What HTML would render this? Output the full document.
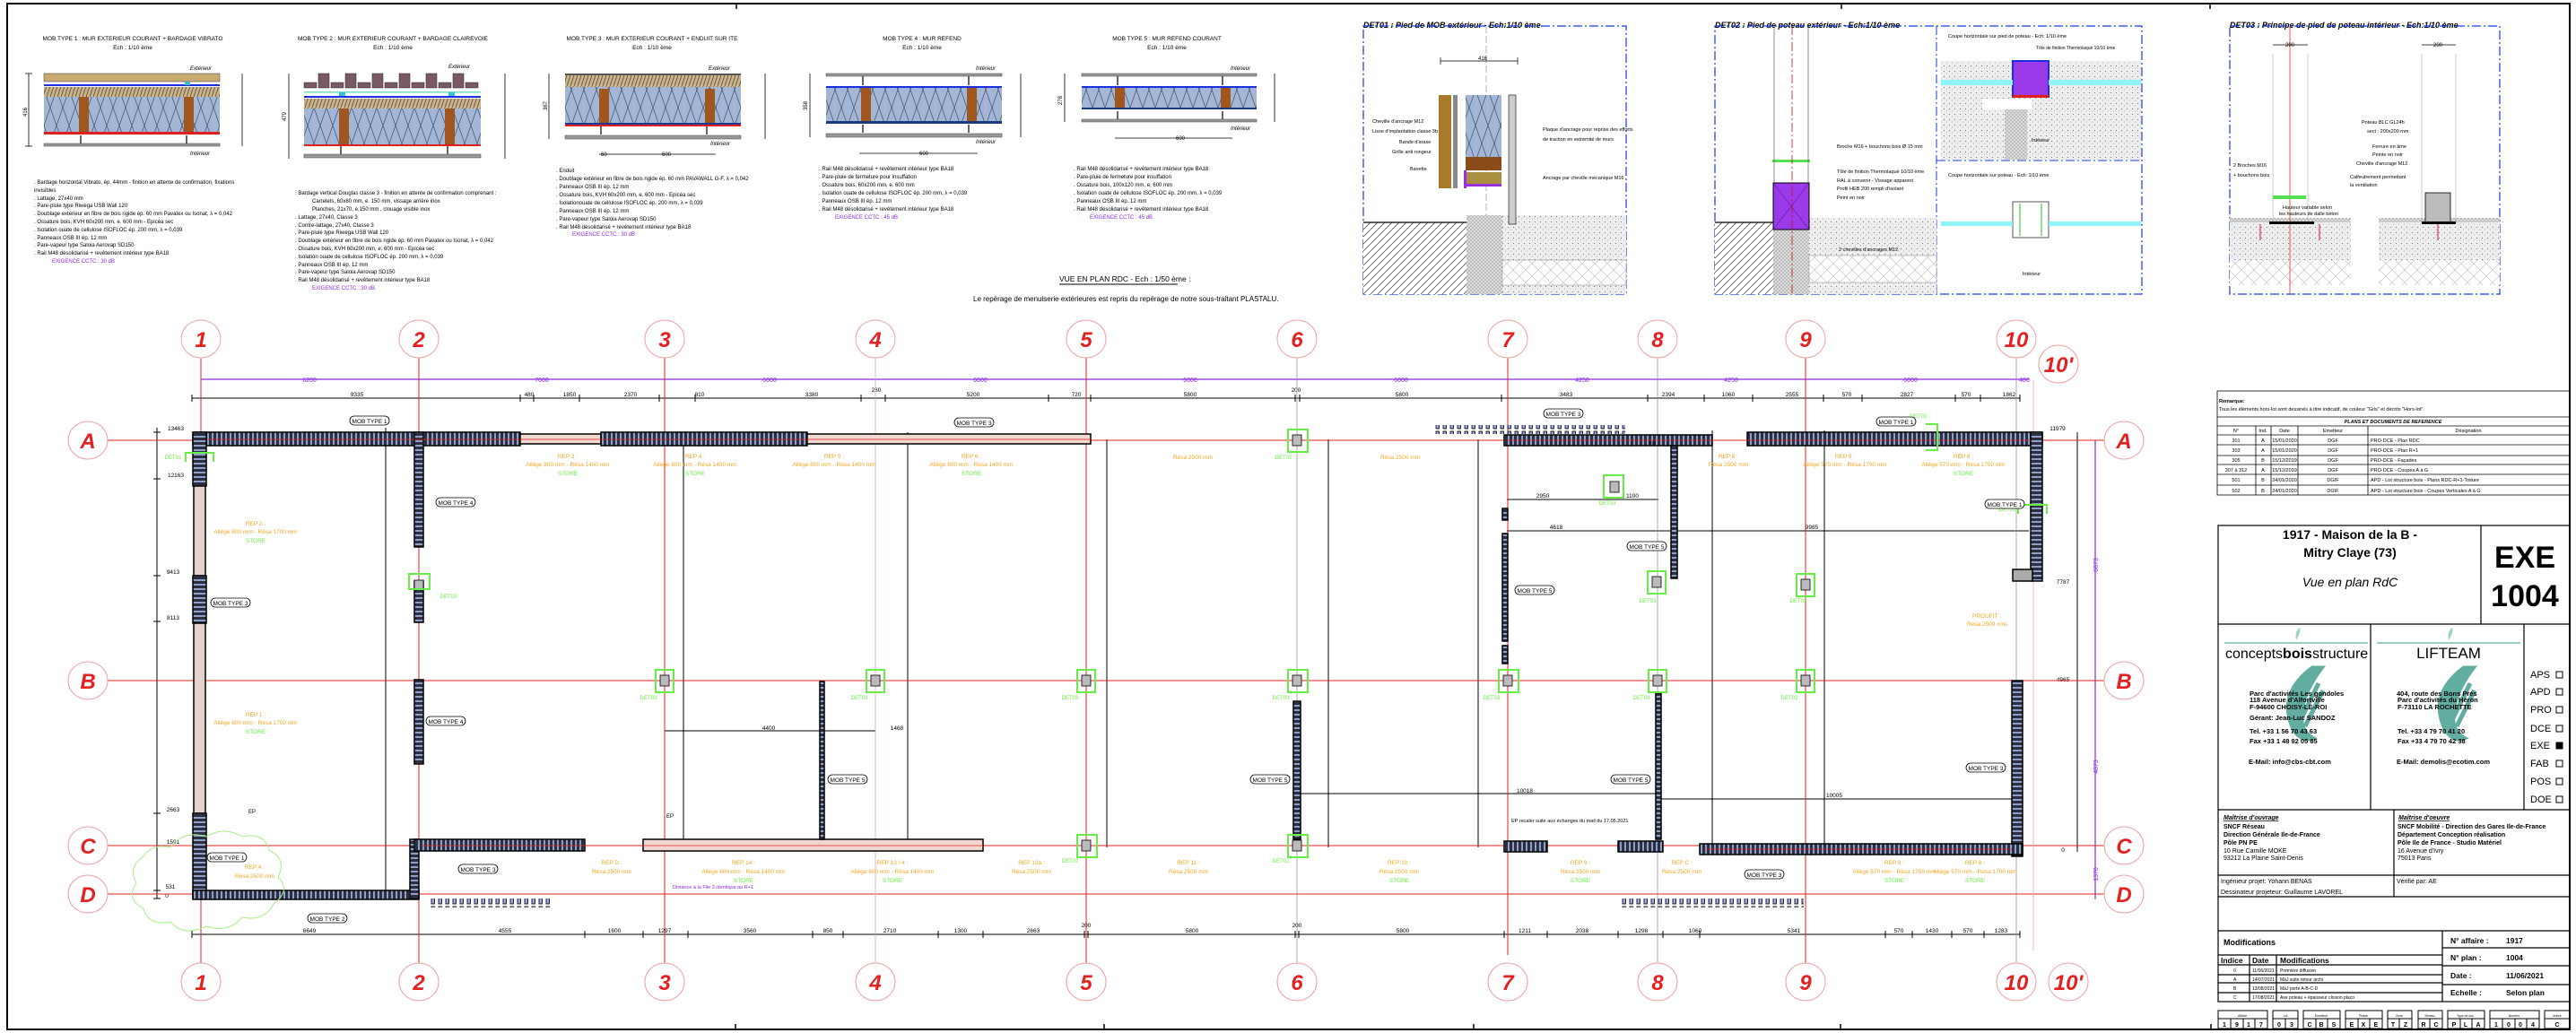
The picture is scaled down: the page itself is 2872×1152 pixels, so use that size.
<!DOCTYPE html>
<html><head><meta charset="utf-8"><style>
html,body{margin:0;padding:0;background:#fff}
svg{display:block}
text{font-family:"Liberation Sans Narrow","Liberation Sans",sans-serif}
</style></head><body>
<svg width="2872" height="1152" viewBox="0 0 2872 1152" xmlns="http://www.w3.org/2000/svg">
<defs>
<pattern id="hw" patternUnits="userSpaceOnUse" width="5" height="20"><rect width="5" height="20" fill="#2b2f3f"/><rect x="1" y="0" width="2" height="20" fill="#8fa0c8"/></pattern>
<pattern id="vw" patternUnits="userSpaceOnUse" width="20" height="5"><rect width="20" height="5" fill="#2b2f3f"/><rect x="0" y="1" width="20" height="2" fill="#8fa0c8"/></pattern>
<pattern id="ins" patternUnits="userSpaceOnUse" width="14" height="40"><rect width="14" height="40" fill="#a3b6d6"/><path d="M0 0 Q7 20 14 40 M14 0 Q7 20 0 40" stroke="#3c4a66" stroke-width="0.7" fill="none"/></pattern>
<pattern id="fib" patternUnits="userSpaceOnUse" width="4" height="12"><rect width="4" height="12" fill="#c9b48e"/><path d="M0 12 L4 0" stroke="#5a4630" stroke-width="0.8"/></pattern>
<pattern id="diag" patternUnits="userSpaceOnUse" width="8" height="8"><rect width="8" height="8" fill="#fff"/><path d="M0 8 L8 0" stroke="#333" stroke-width="0.7"/></pattern>
<pattern id="conc" patternUnits="userSpaceOnUse" width="6" height="6"><rect width="6" height="6" fill="#eee"/><circle cx="1.5" cy="1.5" r="0.6" fill="#777"/><circle cx="4.5" cy="4" r="0.5" fill="#999"/></pattern>
<pattern id="xh" patternUnits="userSpaceOnUse" width="4" height="4"><rect width="4" height="4" fill="#ddd"/><path d="M0 4 L4 0 M0 0 L4 4" stroke="#999" stroke-width="0.5"/></pattern>
<pattern id="winrow" patternUnits="userSpaceOnUse" width="8" height="10"><rect x="1" y="1" width="3.5" height="7" fill="#9aa2e0" stroke="#000" stroke-width="0.8"/></pattern>
<pattern id="pinsq" patternUnits="userSpaceOnUse" width="14" height="14"><rect width="14" height="14" fill="#fff"/><path d="M0 0 Q7 7 14 14 M14 0 Q7 7 0 14" stroke="#bbb" stroke-width="0.6" fill="none"/></pattern>
</defs>
<rect width="2872" height="1152" fill="#fff"/>
<!-- frame -->
<rect x="8" y="4" width="2857" height="1144" fill="none" stroke="#000" stroke-width="2"/>
<g stroke="#000" stroke-width="1.5">
<line x1="821" y1="4" x2="821" y2="10"/><line x1="2053" y1="4" x2="2053" y2="10"/><line x1="2464" y1="4" x2="2464" y2="10"/>
<line x1="820" y1="1142" x2="820" y2="1148"/><line x1="1231" y1="1142" x2="1231" y2="1148"/><line x1="1643" y1="1142" x2="1643" y2="1148"/><line x1="2052" y1="1142" x2="2052" y2="1148"/><line x1="2465" y1="1142" x2="2465" y2="1148"/>
</g>

<!-- ===== MOB TYPE DETAILS ===== -->
<g font-size="6.5" text-anchor="middle" fill="#000">
<text x="148" y="45">MOB TYPE 1 : MUR EXTERIEUR COURANT + BARDAGE VIBRATO</text><text x="148" y="55">Ech : 1/10 ème</text>
<text x="438" y="45">MOB TYPE 2 : MUR EXTERIEUR COURANT + BARDAGE CLAIREVOIE</text><text x="438" y="55">Ech : 1/10 ème</text>
<text x="727" y="45">MOB TYPE 3 : MUR EXTERIEUR COURANT + ENDUIT SUR ITE</text><text x="727" y="55">Ech : 1/10 ème</text>
<text x="1028" y="45">MOB TYPE 4 : MUR REFEND</text><text x="1028" y="55">Ech : 1/10 ème</text>
<text x="1301" y="45">MOB TYPE 5 : MUR REFEND COURANT</text><text x="1301" y="55">Ech : 1/10 ème</text>
</g>
<!-- MOB1 -->
<g>
<rect x="49" y="82" width="196" height="9" fill="#c8aa72" stroke="#333" stroke-width="0.5"/>
<rect x="49" y="94" width="196" height="2" fill="#1a2fe0"/>
<rect x="49" y="97" width="196" height="11" fill="url(#fib)"/>
<rect x="49" y="108" width="196" height="39" fill="url(#ins)"/>
<rect x="88" y="108" width="11" height="39" fill="#a0561f"/><rect x="205" y="108" width="11" height="39" fill="#a0561f"/>
<rect x="206" y="91" width="6" height="4" fill="#3ac0d0"/>
<rect x="49" y="147" width="196" height="3" fill="#e02020"/>
<path d="M90 151 V160 M208 151 V160" stroke="#000" stroke-width="1.2"/>
<rect x="49" y="160" width="196" height="3" fill="#999" stroke="#444" stroke-width="0.5"/>
<path d="M32 82 V163 M28 82 H36 M28 163 H36" stroke="#000" stroke-width="0.8"/>
<text x="30" y="125" font-size="6" transform="rotate(-90 30 125)" text-anchor="middle">416</text>
<path d="M270 82 V163" stroke="#000" stroke-width="0.8"/>
<text x="212" y="78" font-size="6" font-style="italic">Extérieur</text><text x="212" y="173" font-size="6" font-style="italic">Intérieur</text>
</g>
<!-- MOB2 -->
<g>
<g fill="#7a5a62" stroke="#222" stroke-width="0.5">
<rect x="339" y="92" width="14" height="6"/><rect x="355" y="82" width="12" height="16"/><rect x="369" y="92" width="14" height="6"/><rect x="385" y="82" width="12" height="16"/><rect x="399" y="92" width="14" height="6"/><rect x="415" y="82" width="12" height="16"/><rect x="429" y="92" width="14" height="6"/><rect x="445" y="82" width="12" height="16"/><rect x="459" y="92" width="14" height="6"/><rect x="475" y="82" width="12" height="16"/><rect x="489" y="92" width="14" height="6"/><rect x="505" y="82" width="12" height="16"/><rect x="519" y="92" width="14" height="6"/></g>
<rect x="339" y="102" width="197" height="1.5" fill="#6ee0c0"/>
<rect x="378" y="103" width="7" height="5" fill="#3ac0d0"/><rect x="500" y="103" width="7" height="5" fill="#3ac0d0"/>
<rect x="339" y="107" width="197" height="2" fill="#1a2fe0"/>
<rect x="339" y="110" width="197" height="11" fill="url(#fib)"/>
<rect x="339" y="121" width="197" height="40" fill="url(#ins)"/>
<rect x="378" y="121" width="11" height="40" fill="#a0561f"/><rect x="496" y="121" width="11" height="40" fill="#a0561f"/>
<rect x="339" y="161" width="197" height="2" fill="#e02020"/>
<path d="M380 163 V172 M499 163 V172" stroke="#000" stroke-width="1.2"/>
<rect x="339" y="172" width="197" height="4" fill="#999" stroke="#444" stroke-width="0.5"/>
<path d="M322 82 V177" stroke="#000" stroke-width="0.8"/><text x="319" y="130" font-size="6" transform="rotate(-90 319 130)" text-anchor="middle">479</text>
<path d="M563 82 V177" stroke="#000" stroke-width="0.8"/>
<text x="500" y="76" font-size="6" font-style="italic">Extérieur</text>
</g>
<!-- MOB3 -->
<g>
<rect x="630" y="82" width="196" height="2" fill="#555"/>
<rect x="630" y="84" width="196" height="13" fill="url(#fib)"/>
<rect x="630" y="97" width="196" height="40" fill="url(#ins)"/>
<rect x="668" y="99" width="11" height="38" fill="#a0561f"/><rect x="786" y="99" width="11" height="38" fill="#a0561f"/>
<rect x="630" y="137" width="196" height="2" fill="#1a3a90"/><rect x="630" y="139" width="196" height="2" fill="#e02020"/>
<path d="M670 141 V150 M788 141 V150" stroke="#000" stroke-width="1.2"/>
<rect x="630" y="151" width="196" height="4" fill="#999" stroke="#444" stroke-width="0.5"/>
<path d="M612 82 V155" stroke="#000" stroke-width="0.8"/><text x="610" y="118" font-size="6" transform="rotate(-90 610 118)" text-anchor="middle">367</text>
<path d="M853 82 V155" stroke="#000" stroke-width="0.8"/>
<text x="790" y="78" font-size="6" font-style="italic">Extérieur</text><text x="792" y="162" font-size="6" font-style="italic">Intérieur</text>
<path d="M668 172 H798" stroke="#000" stroke-width="0.8"/><text x="738" y="174" font-size="6">600</text><text x="670" y="174" font-size="6">60</text>
</g>
<!-- MOB4 -->
<g>
<rect x="921" y="82" width="196" height="3" fill="#999" stroke="#444" stroke-width="0.5"/>
<path d="M962 85 V95 M1080 85 V95 M962 139 V148 M1080 139 V148" stroke="#000" stroke-width="1.2"/>
<rect x="921" y="96" width="196" height="2" fill="#1a2fe0"/>
<rect x="921" y="98" width="196" height="37" fill="url(#ins)"/>
<rect x="960" y="98" width="11" height="37" fill="#a0561f"/><rect x="1078" y="98" width="11" height="37" fill="#a0561f"/>
<rect x="921" y="135" width="196" height="3" fill="#1a3a80"/>
<rect x="921" y="149" width="196" height="4" fill="#999" stroke="#444" stroke-width="0.5"/>
<path d="M903 82 V153" stroke="#000" stroke-width="0.8"/><text x="900" y="118" font-size="6" transform="rotate(-90 900 118)" text-anchor="middle">358</text>
<path d="M1138 82 V153" stroke="#000" stroke-width="0.8"/>
<text x="1088" y="78" font-size="6" font-style="italic">Intérieur</text><text x="1088" y="160" font-size="6" font-style="italic">Intérieur</text>
<path d="M958 171 H1090" stroke="#000" stroke-width="0.8"/><text x="1025" y="173" font-size="6">600</text>
</g>
<!-- MOB5 -->
<g>
<rect x="1206" y="82" width="195" height="3" fill="#999" stroke="#444" stroke-width="0.5"/>
<path d="M1246 85 V95 M1363 85 V95 M1246 124 V133 M1363 124 V133" stroke="#000" stroke-width="1.2"/>
<rect x="1206" y="96" width="195" height="2" fill="#1a2fe0"/>
<rect x="1206" y="98" width="195" height="22" fill="url(#ins)"/>
<rect x="1243" y="98" width="11" height="22" fill="#a0561f"/><rect x="1361" y="98" width="11" height="22" fill="#a0561f"/>
<rect x="1206" y="120" width="195" height="2" fill="#1a3a80"/>
<rect x="1206" y="133" width="195" height="3" fill="#999" stroke="#444" stroke-width="0.5"/>
<path d="M1187 82 V136" stroke="#000" stroke-width="0.8"/><text x="1184" y="112" font-size="6" transform="rotate(-90 1184 112)" text-anchor="middle">278</text>
<path d="M1421 82 V136" stroke="#000" stroke-width="0.8"/>
<text x="1372" y="78" font-size="6" font-style="italic">Intérieur</text><text x="1372" y="145" font-size="6" font-style="italic">Intérieur</text>
<path d="M1243 154 H1374" stroke="#000" stroke-width="0.8"/><text x="1311" y="156" font-size="6">600</text>
</g>
<!-- MOB texts -->
<g font-size="6">
<text x="38" y="205">. Bardage horizontal Vibrato, ép. 44mm - finition en attente de confirmation, fixations</text>
<text x="38" y="214">invisibles</text>
<text x="38" y="223">. Lattage, 27x40 mm</text>
<text x="38" y="231">. Pare-pluie type Riwega USB Wall 120</text>
<text x="38" y="240">. Doublage extérieur en fibre de bois rigide ép. 60 mm Pavatex ou Isonat, λ = 0,042</text>
<text x="38" y="249">. Ossature bois, KVH 60x200 mm, e. 600 mm - Epicéa sec</text>
<text x="38" y="258">. Isolation ouate de cellulose ISOFLOC ép. 200 mm, λ = 0,039</text>
<text x="38" y="267">. Panneaux OSB III ép. 12 mm</text>
<text x="38" y="275">. Pare-vapeur type Saloia Aerovap SD150</text>
<text x="38" y="284">. Rail M48 désolidarisé + revêtement intérieur type BA18</text>
<text x="58" y="293" fill="#8a2be2">EXIGENCE CCTC : 30 dB</text>

<text x="329" y="217">. Bardage vertical Douglas classe 3 - finition en attente de confirmation comprenant :</text>
<text x="348" y="226">Carrelets, 60x80 mm, e. 150 mm, vissage arrière inox</text>
<text x="348" y="235">Planches, 21x70, e.150 mm , clouage visible inox</text>
<text x="329" y="244">. Lattage, 27x40, Classe 3</text>
<text x="329" y="253">. Contre-lattage, 27x40, Classe 3</text>
<text x="329" y="261">. Pare-pluie type Riwega USB Wall 120</text>
<text x="329" y="270">. Doublage extérieur en fibre de bois rigide ép. 60 mm Pavatex ou Isonat, λ = 0,042</text>
<text x="329" y="279">. Ossature bois, KVH 60x200 mm, e. 600 mm - Epicéa sec</text>
<text x="329" y="288">. Isolation ouate de cellulose ISOFLOC  ép. 200 mm, λ = 0,039</text>
<text x="329" y="297">. Panneaux OSB III ép. 12 mm</text>
<text x="329" y="305">. Pare-vapeur type Saloia Aerovap SD150</text>
<text x="329" y="314">. Rail M48 désolidarisé + revêtement intérieur type BA18</text>
<text x="348" y="323" fill="#8a2be2">EXIGENCE CCTC : 30 dB</text>

<text x="620" y="192">. Enduit</text>
<text x="620" y="201">. Doublage extérieur en fibre de bois rigide ép. 60 mm PAVAWALL G-F, λ = 0,042</text>
<text x="620" y="210">. Panneaux OSB III ép. 12 mm</text>
<text x="620" y="219">. Ossature bois, KVH 60x200 mm, e. 600 mm - Epicéa sec</text>
<text x="620" y="228">. Isolationouate de cellulose ISOFLOC ép. 200 mm, λ = 0,039</text>
<text x="620" y="237">. Panneaux OSB III ép. 12 mm</text>
<text x="620" y="246">. Pare-vapeur type Saloia Aerovap SD150</text>
<text x="620" y="255">. Rail M48 désolidarisé + revêtement intérieur type BA18</text>
<text x="638" y="263" fill="#8a2be2">EXIGENCE CCTC : 30 dB</text>

<text x="913" y="190">. Rail M48 désolidarisé + revêtement intérieur type BA18</text>
<text x="913" y="199">. Pare-pluie de fermeture pour insuffation</text>
<text x="913" y="208">. Ossature bois, 60x200 mm, e. 600 mm</text>
<text x="913" y="217">. Isolation ouate de cellulose ISOFLOC ép. 200 mm, λ = 0,039</text>
<text x="913" y="226">. Panneaux OSB III ép. 12 mm</text>
<text x="913" y="235">. Rail M48 désolidarisé + revêtement intérieur type BA18</text>
<text x="931" y="244" fill="#8a2be2">EXIGENCE CCTC : 45 dB</text>

<text x="1197" y="190">. Rail M48 désolidarisé + revêtement intérieur type BA18</text>
<text x="1197" y="199">. Pare-pluie de fermeture pour insuffation</text>
<text x="1197" y="208">. Ossature bois, 100x120 mm, e. 600 mm</text>
<text x="1197" y="217">. Isolation ouate de cellulose ISOFLOC ép. 200 mm, λ = 0,039</text>
<text x="1197" y="226">. Panneaux OSB III ép. 12 mm</text>
<text x="1197" y="235">. Rail M48 désolidarisé + revêtement intérieur type BA18</text>
<text x="1215" y="244" fill="#8a2be2">EXIGENCE CCTC : 45 dB</text>
</g>
<text x="1181" y="314" font-size="8.5">VUE EN PLAN RDC - Ech : 1/50 ème :</text>
<line x1="1181" y1="317" x2="1313" y2="317" stroke="#000" stroke-width="1"/>
<text x="1085" y="336" font-size="8">Le repérage de menuiserie extérieures est repris du repérage de notre sous-traitant PLASTALU.</text>

<!-- ===== DET01 ===== -->
<g>
<text x="1520" y="31" font-size="9" font-style="italic" font-weight="bold">DET01 : Pied de MOB extérieur - Ech:1/10 ème</text>
<rect x="1520" y="29" width="293" height="299" fill="none" stroke="#1a3adc" stroke-width="1.2" stroke-dasharray="10 3 2 3"/>
<line x1="1657" y1="29" x2="1657" y2="328" stroke="#666" stroke-width="0.5" stroke-dasharray="8 3"/>
<rect x="1520" y="248" width="115" height="80" fill="url(#diag)"/>
<line x1="1520" y1="248" x2="1635" y2="248" stroke="#000" stroke-width="1.2"/>
<rect x="1635" y="240" width="178" height="88" fill="url(#conc)"/>
<rect x="1635" y="240" width="40" height="88" fill="url(#xh)"/>
<rect x="1675" y="290" width="138" height="28" fill="url(#pinsq)" stroke="#888" stroke-width="0.5"/>
<rect x="1604" y="106" width="14" height="104" fill="#a87a2a"/>
<rect x="1620" y="106" width="5" height="104" fill="#888"/>
<rect x="1634" y="106" width="40" height="69" fill="url(#ins)"/>
<rect x="1634" y="175" width="40" height="15" fill="#8a4a1a"/>
<rect x="1634" y="192" width="40" height="15" fill="#a89040"/>
<rect x="1632" y="190" width="3" height="20" fill="#9a30e0"/><rect x="1634" y="205" width="40" height="3" fill="#9a30e0"/>
<rect x="1682" y="106" width="8" height="144" fill="#ccc" stroke="#000" stroke-width="0.6"/>
<g font-size="5.5"><text x="1530" y="137">Cheville d'ancrage M12</text><text x="1530" y="148">Lisse d'implantation classe 3b</text><text x="1560" y="160">Bande d'arase</text><text x="1552" y="171">Grille anti rongeur</text><text x="1572" y="190">Bavette</text><text x="1720" y="146">Plaque d'ancrage pour reprise des efforts</text><text x="1720" y="157">de traction en extrémité de murs</text><text x="1720" y="200">Ancrage par cheville mécanique M16</text></g>
<path d="M1606 68 H1692 M1606 64 V72 M1692 64 V72" stroke="#000" stroke-width="0.7"/><text x="1648" y="67" font-size="6">416</text>
</g>
<!-- ===== DET02 ===== -->
<g>
<text x="1912" y="31" font-size="9" font-style="italic" font-weight="bold">DET02 : Pied de poteau extérieur - Ech:1/10 ème</text>
<rect x="1912" y="29" width="476" height="299" fill="none" stroke="#1a3adc" stroke-width="1.2" stroke-dasharray="10 3 2 3"/>
<line x1="2159" y1="29" x2="2159" y2="328" stroke="#1a3adc" stroke-width="1" stroke-dasharray="10 3 2 3"/>
<line x1="2159" y1="179" x2="2388" y2="179" stroke="#1a3adc" stroke-width="1" stroke-dasharray="10 3 2 3"/>
<rect x="1912" y="248" width="65" height="80" fill="url(#diag)"/>
<line x1="1912" y1="248" x2="1977" y2="248" stroke="#000" stroke-width="1.2"/>
<rect x="2017" y="243" width="142" height="85" fill="url(#conc)"/>
<rect x="1977" y="256" width="40" height="72" fill="url(#xh)"/>
<rect x="2017" y="285" width="142" height="30" fill="url(#pinsq)" stroke="#888" stroke-width="0.5"/>
<rect x="1977" y="204" width="40" height="52" fill="#9a3ae8" stroke="#000" stroke-width="1"/>
<path d="M1977 204 L2017 256 M2017 204 L1977 256" stroke="#5a1a9a" stroke-width="0.6"/>
<rect x="1976" y="178" width="42" height="3" fill="#55e050"/>
<line x1="1998" y1="29" x2="1998" y2="328" stroke="#c01010" stroke-width="0.8" stroke-dasharray="10 3 2 3"/>
<line x1="1978" y1="29" x2="1978" y2="204" stroke="#444" stroke-width="0.6"/><line x1="2016" y1="29" x2="2016" y2="204" stroke="#444" stroke-width="0.6"/>
<g font-size="5.5"><text x="2048" y="165">Broche M16 + bouchons bois Ø 15 mm</text><text x="2048" y="193">Tôle de finition Thermolaqué 10/10 ème</text><text x="2048" y="203">RAL à convenir - Vissage apparent</text><text x="2048" y="212">Profil HEB 200 rempli d'isolant</text><text x="2048" y="222">Peint en noir</text><text x="2050" y="280">2 chevilles d'ancrages M12</text></g>
<rect x="2164" y="68" width="223" height="110" fill="url(#conc)"/>
<rect x="2210" y="110" width="55" height="12" fill="#fff"/>
<rect x="2235" y="122" width="25" height="56" fill="url(#xh)"/>
<rect x="2244" y="68" width="40" height="40" fill="#9a3ae8" stroke="#1a2fe0" stroke-width="2"/>
<rect x="2244" y="106" width="40" height="3" fill="#e02020"/>
<rect x="2164" y="89" width="80" height="6" fill="#8ff4f8"/><rect x="2284" y="89" width="103" height="6" fill="#8ff4f8"/>
<text x="2172" y="42" font-size="5.5">Coupe horizontale sur pied de poteau - Ech: 1/10 ème</text>
<text x="2270" y="55" font-size="5">Tôle de finition Thermolaqué 10/10 ème</text>
<text x="2172" y="197" font-size="5.5">Coupe horizontale sur poteau - Ech: 1/10 ème</text>
<rect x="2244" y="225" width="40" height="40" fill="#fff" stroke="#555" stroke-width="1"/>
<path d="M2252 227 V263 M2276 227 V263" stroke="#40d040" stroke-width="1.2"/>
<rect x="2164" y="247" width="80" height="5" fill="#8ff4f8"/><rect x="2284" y="247" width="103" height="5" fill="#8ff4f8"/>
<text x="2265" y="307" font-size="5.5" text-anchor="middle">Intérieur</text>
<text x="2275" y="158" font-size="5.5" text-anchor="middle">Intérieur</text>
</g>
<!-- ===== DET03 ===== -->
<g>
<text x="2486" y="31" font-size="9" font-style="italic" font-weight="bold">DET03 : Principe de pied de poteau intérieur - Ech:1/10 ème</text>
<rect x="2486" y="29" width="301" height="299" fill="none" stroke="#1a3adc" stroke-width="1.2" stroke-dasharray="10 3 2 3"/>
<rect x="2486" y="243" width="135" height="47" fill="url(#conc)"/><rect x="2486" y="290" width="135" height="28" fill="url(#pinsq)"/>
<rect x="2652" y="243" width="135" height="47" fill="url(#conc)"/><rect x="2652" y="290" width="135" height="28" fill="url(#pinsq)"/>
<rect x="2486" y="243" width="135" height="5" fill="url(#xh)"/><rect x="2652" y="243" width="135" height="5" fill="url(#xh)"/>
<line x1="2553" y1="29" x2="2553" y2="328" stroke="#e03030" stroke-width="0.8"/>
<line x1="2534" y1="60" x2="2534" y2="248" stroke="#999" stroke-width="0.5"/><line x1="2573" y1="60" x2="2573" y2="248" stroke="#999" stroke-width="0.5"/>
<line x1="2700" y1="60" x2="2700" y2="248" stroke="#999" stroke-width="0.5"/><line x1="2738" y1="60" x2="2738" y2="248" stroke="#999" stroke-width="0.5"/>
<rect x="2534" y="218" width="37" height="4" fill="#55e050"/>
<rect x="2704" y="215" width="28" height="33" fill="#bbb" stroke="#000" stroke-width="0.8"/>
<rect x="2530" y="247" width="50" height="3" fill="#000"/><rect x="2700" y="247" width="38" height="3" fill="#000"/>
<path d="M2520 250 V268 M2586 250 V268 M2718 250 V268" stroke="#e03070" stroke-width="1.2"/>
<g font-size="5.5"><text x="2490" y="186">2 Broches M16</text><text x="2490" y="197">+ bouchons bois</text><text x="2545" y="233">Hauteur variable selon</text><text x="2541" y="240">les hauteurs de dalle béton</text><text x="2633" y="138">Poteau BLC GL24h</text><text x="2639" y="148">sect : 200x200 mm</text><text x="2645" y="165">Ferrure en âme</text><text x="2645" y="174">Peinte en noir</text><text x="2627" y="184">Cheville d'ancrage M12</text><text x="2620" y="199">Calfeutrement permettant</text><text x="2620" y="208">la ventilation</text></g>
<path d="M2534 50 H2573 M2700 50 H2738" stroke="#000" stroke-width="0.7"/><text x="2548" y="52" font-size="6">200</text><text x="2713" y="52" font-size="6">200</text>
</g>

<!-- ===== PLAN ===== -->
<!-- dimension lines -->
<g stroke="#8a2be2" stroke-width="1.2"><line x1="224" y1="423" x2="2262" y2="423"/><line x1="2336" y1="491" x2="2336" y2="1003"/></g>
<g fill="#8a2be2" font-size="7" text-anchor="middle">
<text x="345" y="426">6200</text><text x="604" y="426">7000</text><text x="858" y="426">6000</text><text x="1093" y="426">6000</text><text x="1327" y="426">6000</text><text x="1562" y="426">6000</text><text x="1764" y="426">4250</text><text x="1930" y="426">4250</text><text x="2130" y="426">6000</text><text x="2257" y="426">480</text>
<text x="2339" y="630" transform="rotate(-90 2339 630)">6873</text><text x="2339" y="855" transform="rotate(-90 2339 855)">4873</text><text x="2339" y="975" transform="rotate(-90 2339 975)">1370</text>
</g>
<g stroke="#000" stroke-width="1"><line x1="214" y1="444" x2="2252" y2="444"/><line x1="214" y1="1042" x2="2252" y2="1042"/>
<line x1="175" y1="477" x2="175" y2="1002"/><line x1="2316" y1="482" x2="2316" y2="950"/>
<line x1="430" y1="477" x2="430" y2="995"/><line x1="1012" y1="482" x2="1012" y2="945"/><line x1="1234" y1="490" x2="1234" y2="945"/><line x1="1481" y1="490" x2="1481" y2="945"/><line x1="1648" y1="490" x2="1648" y2="945"/><line x1="762" y1="490" x2="762" y2="945"/><line x1="1909" y1="480" x2="1909" y2="948"/><line x1="2034" y1="480" x2="2034" y2="948"/>
<line x1="741" y1="815" x2="976" y2="815"/><line x1="1446" y1="885" x2="1850" y2="885"/><line x1="1680" y1="592" x2="2262" y2="592"/><line x1="1680" y1="557" x2="1849" y2="557"/><line x1="1850" y1="891" x2="2249" y2="891"/>
</g>
<g stroke="#000" stroke-width="1">
<path d="M214 440 V448 M580 440 V448 M595 440 V448 M646 440 V448 M735 440 V448 M775 440 V448 M960 440 V448 M987 440 V448 M1169 440 V448 M1216 440 V448 M1444 440 V448 M1449 440 V448 M1674 440 V448 M1837 440 V448 M1900 440 V448 M1954 440 V448 M2033 440 V448 M2076 440 V448 M2180 440 V448 M2208 440 V448 M2252 440 V448"/>
<path d="M214 1038 V1046 M467 1038 V1046 M652 1038 V1046 M717 1038 V1046 M767 1038 V1046 M906 1038 V1046 M940 1038 V1046 M1046 1038 V1046 M1096 1038 V1046 M1209 1038 V1046 M1213 1038 V1046 M1444 1038 V1046 M1448 1038 V1046 M1677 1038 V1046 M1725 1038 V1046 M1804 1038 V1046 M1854 1038 V1046 M1895 1038 V1046 M2102 1038 V1046 M2132 1038 V1046 M2176 1038 V1046 M2212 1038 V1046 M2252 1038 V1046"/>
<path d="M171 482 H179 M171 534 H179 M171 642 H179 M171 693 H179 M171 907 H179 M171 943 H179 M171 993 H179 M171 1002 H179"/>
</g>
<g font-size="6.5" text-anchor="middle">
<text x="398" y="442">9335</text><text x="590" y="442">480</text><text x="635" y="442">1850</text><text x="703" y="442">2370</text><text x="780" y="442">810</text><text x="905" y="442">3380</text><text x="977" y="437">280</text><text x="1085" y="442">5200</text><text x="1200" y="442">720</text><text x="1327" y="442">5800</text><text x="1445" y="437">200</text><text x="1563" y="442">5800</text><text x="1746" y="442">3483</text><text x="1860" y="442">2394</text><text x="1927" y="442">1060</text><text x="1998" y="442">2555</text><text x="2059" y="442">570</text><text x="2126" y="442">2827</text><text x="2192" y="442">570</text><text x="2240" y="442">1862</text>
<text x="345" y="1040">6649</text><text x="563" y="1040">4555</text><text x="685" y="1040">1600</text><text x="741" y="1040">1297</text><text x="836" y="1040">3560</text><text x="923" y="1040">850</text><text x="992" y="1040">2710</text><text x="1071" y="1040">1300</text><text x="1152" y="1040">2663</text><text x="1211" y="1034">200</text><text x="1329" y="1040">5800</text><text x="1446" y="1034">200</text><text x="1564" y="1040">5800</text><text x="1700" y="1040">1211</text><text x="1764" y="1040">2038</text><text x="1830" y="1040">1298</text><text x="1890" y="1040">1060</text><text x="2000" y="1040">5341</text><text x="2117" y="1040">570</text><text x="2154" y="1040">1430</text><text x="2194" y="1040">570</text><text x="2231" y="1040">1283</text>
<text x="196" y="480">13463</text><text x="196" y="532">12163</text><text x="193" y="640">9413</text><text x="193" y="691">8113</text><text x="193" y="905">2663</text><text x="193" y="941">1591</text><text x="190" y="991">531</text><text x="186" y="1001">0</text>
<text x="2294" y="480">11979</text><text x="2300" y="651">7787</text><text x="2300" y="760">4965</text><text x="2300" y="950">0</text>
<text x="857" y="814">4400</text><text x="1000" y="814">1468</text><text x="1700" y="884">10018</text><text x="2020" y="590">9985</text><text x="1735" y="590">4618</text><text x="1720" y="555">2950</text><text x="1820" y="555">1100</text><text x="2045" y="889">10005</text>
</g>

<!-- grid lines -->
<g stroke="#e52020" stroke-width="1">
<line x1="120" y1="491" x2="2346" y2="491"/><line x1="120" y1="759" x2="2346" y2="759"/><line x1="120" y1="943" x2="2346" y2="943"/><line x1="120" y1="997" x2="2346" y2="997"/>
<line x1="224" y1="398" x2="224" y2="1080"/><line x1="467" y1="398" x2="467" y2="1080"/><line x1="741" y1="398" x2="741" y2="1080"/><line x1="1211" y1="398" x2="1211" y2="1080"/><line x1="1681" y1="398" x2="1681" y2="1065"/><line x1="2013" y1="398" x2="2013" y2="1080"/>
</g>
<g stroke="#f0a0a0" stroke-width="0.8"><line x1="976" y1="398" x2="976" y2="1080"/><line x1="2267" y1="424" x2="2267" y2="1060"/></g>
<g stroke="#888" stroke-width="0.7"><line x1="1446" y1="398" x2="1446" y2="1080"/><line x1="1848" y1="398" x2="1848" y2="1080"/><line x1="2248" y1="398" x2="2248" y2="1080"/></g>

<!-- walls -->
<g stroke="#000" stroke-width="1.5">
<rect x="215" y="482" width="365" height="15" fill="url(#hw)"/>
<rect x="580" y="484" width="90" height="11" fill="#f0d8d0"/>
<rect x="670" y="482" width="230" height="15" fill="url(#hw)"/>
<rect x="900" y="484" width="316" height="11" fill="#f0d8d0"/>
<rect x="1677" y="485" width="232" height="12" fill="url(#hw)"/>
<rect x="1948" y="482" width="329" height="15" fill="url(#hw)"/>
<rect x="2264" y="482" width="13" height="166" fill="url(#vw)"/>
<rect x="2244" y="635" width="22" height="13" fill="#aaa"/>
<rect x="2243" y="759" width="12" height="196" fill="url(#vw)"/>
<rect x="1895" y="941" width="360" height="12" fill="url(#hw)"/>
<rect x="1804" y="938" width="50" height="12" fill="url(#hw)"/>
<rect x="1677" y="938" width="48" height="12" fill="url(#hw)"/>
<rect x="215" y="482" width="15" height="60" fill="url(#vw)"/>
<rect x="216" y="542" width="13" height="100" fill="#e4d2cc"/>
<rect x="215" y="642" width="15" height="53" fill="url(#vw)"/>
<rect x="216" y="695" width="13" height="212" fill="#e4d2cc"/>
<rect x="215" y="907" width="15" height="95" fill="url(#vw)"/>
<rect x="215" y="993" width="252" height="10" fill="url(#hw)"/>
<rect x="457" y="936" width="10" height="66" fill="url(#vw)"/>
<rect x="462" y="936" width="190" height="13" fill="url(#hw)"/>
<rect x="717" y="936" width="379" height="13" fill="#f0d8d0"/>
<rect x="462" y="482" width="10" height="128" fill="url(#vw)"/>
<rect x="462" y="648" width="10" height="46" fill="url(#vw)"/>
<rect x="462" y="758" width="10" height="94" fill="url(#vw)"/>
<rect x="914" y="760" width="5" height="176" fill="url(#vw)"/>
<rect x="1442" y="782" width="8" height="154" fill="url(#vw)"/>
<rect x="1846" y="773" width="6" height="163" fill="url(#vw)"/>
<rect x="1863" y="497" width="7" height="148" fill="url(#vw)"/>
<rect x="1675" y="567" width="6" height="13" fill="url(#vw)"/>
<rect x="1675" y="595" width="6" height="120" fill="url(#vw)"/>
<rect x="1675" y="720" width="6" height="20" fill="url(#vw)"/>
</g>
<g stroke="#e52020" stroke-width="0.8"><line x1="230" y1="490" x2="1216" y2="490"/><line x1="1680" y1="491" x2="2264" y2="491"/><line x1="1900" y1="947" x2="2243" y2="947"/><line x1="470" y1="943" x2="1096" y2="943"/></g>
<rect x="478" y="1002" width="138" height="10" fill="url(#winrow)"/>
<rect x="1805" y="1002" width="206" height="10" fill="url(#winrow)"/>
<rect x="1598" y="474" width="214" height="10" fill="url(#winrow)"/>

<!-- columns -->
<g stroke="#000" stroke-width="0.8" fill="#bbb">
<rect x="736" y="753" width="10" height="12"/><rect x="971" y="753" width="10" height="12"/><rect x="1206" y="753" width="10" height="12"/><rect x="1441" y="753" width="10" height="12"/><rect x="1676" y="753" width="10" height="12"/><rect x="1843" y="753" width="10" height="12"/><rect x="2008" y="753" width="10" height="12"/>
<rect x="1441" y="485" width="10" height="12"/><rect x="1206" y="937" width="10" height="12"/><rect x="1441" y="937" width="10" height="12"/>
<rect x="462" y="647" width="10" height="10"/><rect x="1795" y="537" width="10" height="12"/><rect x="1842" y="643" width="10" height="12"/><rect x="2008" y="646" width="10" height="12"/>
</g>
<g stroke="#66ee44" stroke-width="2" fill="none">
<rect x="731" y="747" width="20" height="25"/><rect x="966" y="747" width="20" height="25"/><rect x="1201" y="747" width="20" height="25"/><rect x="1436" y="747" width="22" height="25"/><rect x="1671" y="747" width="22" height="25"/><rect x="1838" y="747" width="20" height="25"/><rect x="2003" y="747" width="20" height="25"/>
<rect x="1436" y="479" width="22" height="25"/><rect x="1201" y="931" width="22" height="25"/><rect x="1436" y="931" width="22" height="25"/>
<rect x="456" y="640" width="23" height="17"/><rect x="1788" y="530" width="22" height="25"/><rect x="1837" y="637" width="20" height="25"/><rect x="2003" y="640" width="20" height="25"/>
<path d="M207 515 V505 H238 V515"/><path d="M2250 573 V563 H2282 V573"/><path d="M2147 473 H2160 V502 H2147"/>
</g>
<g fill="#66ee44" font-size="6" text-anchor="middle">
<text x="193" y="512">DET01</text><text x="2238" y="570">DET01</text><text x="2139" y="466">DET01</text>
<text x="723" y="780">DET03</text><text x="958" y="780">DET03</text><text x="1193" y="780">DET03</text><text x="1428" y="780">DET03</text><text x="1663" y="780">DET03</text><text x="1830" y="780">DET03</text><text x="1995" y="780">DET02</text><text x="1431" y="512">DET02</text><text x="1193" y="962">DET02</text><text x="1428" y="962">DET02</text><text x="2005" y="672">DET02</text><text x="1837" y="672">DET03</text><text x="1792" y="563">DET03</text><text x="500" y="667">DET03</text>
</g>

<!-- wall labels -->
<g font-size="6.5" text-anchor="middle">
<g fill="#fff" stroke="#000" stroke-width="0.8">
<rect x="390" y="464" width="44" height="10" rx="5"/><rect x="486" y="555" width="44" height="10" rx="5"/><rect x="475" y="799" width="44" height="10" rx="5"/><rect x="235" y="667" width="44" height="10" rx="5"/><rect x="231" y="951" width="44" height="10" rx="5"/><rect x="343" y="1019" width="44" height="10" rx="5"/><rect x="1064" y="466" width="44" height="10" rx="5"/><rect x="1721" y="456" width="44" height="10" rx="5"/><rect x="1814" y="604" width="44" height="10" rx="5"/><rect x="1689" y="653" width="44" height="10" rx="5"/><rect x="923" y="864" width="44" height="10" rx="5"/><rect x="511" y="964" width="44" height="10" rx="5"/><rect x="1394" y="864" width="44" height="10" rx="5"/><rect x="1796" y="864" width="44" height="10" rx="5"/><rect x="2092" y="465" width="44" height="10" rx="5"/><rect x="2213" y="557" width="44" height="10" rx="5"/><rect x="2192" y="851" width="44" height="10" rx="5"/><rect x="1945" y="970" width="44" height="10" rx="5"/></g>
<text x="412" y="472">MOB TYPE 1</text><text x="508" y="563">MOB TYPE 4</text><text x="497" y="807">MOB TYPE 4</text><text x="257" y="675">MOB TYPE 3</text><text x="253" y="959">MOB TYPE 1</text><text x="365" y="1027">MOB TYPE 2</text><text x="1086" y="474">MOB TYPE 3</text><text x="1743" y="464">MOB TYPE 3</text><text x="1836" y="612">MOB TYPE 5</text><text x="1711" y="661">MOB TYPE 5</text><text x="945" y="872">MOB TYPE 5</text><text x="533" y="972">MOB TYPE 3</text><text x="1416" y="872">MOB TYPE 5</text><text x="1818" y="872">MOB TYPE 5</text><text x="2114" y="473">MOB TYPE 1</text><text x="2235" y="565">MOB TYPE 1</text><text x="2214" y="859">MOB TYPE 3</text><text x="1967" y="978">MOB TYPE 3</text>
</g>
<g fill="#f5a623" font-size="6.5" text-anchor="middle">
<text x="633" y="511">REP 3 :</text><text x="633" y="520">Allège 800 mm - Résa 1400 mm</text>
<text x="775" y="511">REP 4 :</text><text x="775" y="520">Allège 800 mm - Résa 1400 mm</text>
<text x="285" y="586">REP 2 :</text><text x="285" y="595">Allège 800 mm - Résa 1700 mm</text>
<text x="285" y="799">REP 1 :</text><text x="285" y="808">Allège 800 mm - Résa 1700 mm</text>
<text x="284" y="969">REP A :</text><text x="284" y="979">Résa 2500 mm</text>
<text x="930" y="511">REP 5 :</text><text x="930" y="520">Allège 800 mm - Résa 1400 mm</text>
<text x="1083" y="511">REP 6 :</text><text x="1083" y="520">Allège 800 mm - Résa 1400 mm</text>
<text x="1330" y="512">Résa 2500 mm</text><text x="1561" y="512">Résa 2500 mm</text>
<text x="1927" y="511">REP 8 :</text><text x="1927" y="520">Résa 2500 mm</text>
<text x="2057" y="511">REP 8 :</text><text x="2057" y="520">Allège 570 mm - Résa 1700 mm</text>
<text x="2189" y="511">REP 8 :</text><text x="2189" y="520">Allège 570 mm - Résa 1700 mm</text>
<text x="2215" y="689">PROUFIT :</text><text x="2215" y="698">Résa 2500 mm</text>
<text x="682" y="964">REP D :</text><text x="682" y="974">Résa 2500 mm</text>
<text x="829" y="964">REP 14 :</text><text x="829" y="974">Allège 800 mm - Résa 1400 mm</text>
<text x="995" y="964">REP 13 / 4 :</text><text x="995" y="974">Allège 800 mm - Résa 1400 mm</text>
<text x="1150" y="964">REP 12a :</text><text x="1150" y="974">Résa 2500 mm</text>
<text x="1325" y="964">REP 11 :</text><text x="1325" y="974">Résa 2500 mm</text>
<text x="1560" y="964">REP 10 :</text><text x="1560" y="974">Résa 2500 mm</text>
<text x="1762" y="964">REP 9 :</text><text x="1762" y="974">Résa 2500 mm</text>
<text x="1875" y="964">REP C :</text><text x="1875" y="974">Résa 2500 mm</text>
<text x="2112" y="964">REP 8 :</text><text x="2112" y="974">Allège 570 mm - Résa 1700 mm</text>
<text x="2202" y="964">REP 8 :</text><text x="2202" y="974">Allège 570 mm - Résa 1700 mm</text>
</g>
<g fill="#66ee44" font-size="6.5" text-anchor="middle">
<text x="633" y="530">STORE</text><text x="775" y="530">STORE</text><text x="285" y="605">STORE</text><text x="285" y="818">STORE</text><text x="1083" y="530">STORE</text><text x="2189" y="530">STORE</text><text x="829" y="984">STORE</text><text x="995" y="984">STORE</text><text x="1560" y="984">STORE</text><text x="1762" y="984">STORE</text><text x="2112" y="984">STORE</text><text x="2202" y="984">STORE</text>
</g>
<text x="750" y="991" font-size="5.5" fill="#8a2be2">Distance à la File 3 identique au R+1</text>
<text x="1685" y="917" font-size="5.5">EP recaler suite aux échanges du mail du 17.05.2021</text>
<text x="277" y="907" font-size="6">EP</text><text x="1838" y="497" font-size="6">EP</text><text x="743" y="912" font-size="6">EP</text>
<path d="M160 955 q10 -15 30 -10 q15 -20 40 -12 q20 -12 40 0 q25 -5 30 15 q20 10 10 30 q15 15 -5 30 q-10 20 -35 15 q-15 18 -40 10 q-25 12 -40 -5 q-25 5 -30 -15 q-20 -10 -8 -28 q-10 -18 8 -30z" fill="none" stroke="#a8ee88" stroke-width="1"/>

<!-- axis circles -->
<g fill="#fff" stroke="#f0a0a0" stroke-width="1">
<ellipse cx="224" cy="378" rx="22" ry="21"/><ellipse cx="467" cy="378" rx="22" ry="21"/><ellipse cx="741" cy="378" rx="22" ry="21"/><ellipse cx="976" cy="378" rx="22" ry="21"/><ellipse cx="1211" cy="378" rx="22" ry="21"/><ellipse cx="1446" cy="378" rx="22" ry="21"/><ellipse cx="1681" cy="378" rx="22" ry="21"/><ellipse cx="1848" cy="378" rx="22" ry="21"/><ellipse cx="2013" cy="378" rx="22" ry="21"/><ellipse cx="2248" cy="378" rx="22" ry="21"/><ellipse cx="2295" cy="406" rx="22" ry="21"/>
<ellipse cx="224" cy="1095" rx="22" ry="21"/><ellipse cx="467" cy="1095" rx="22" ry="21"/><ellipse cx="741" cy="1095" rx="22" ry="21"/><ellipse cx="976" cy="1095" rx="22" ry="21"/><ellipse cx="1211" cy="1095" rx="22" ry="21"/><ellipse cx="1446" cy="1095" rx="22" ry="21"/><ellipse cx="1681" cy="1095" rx="22" ry="21"/><ellipse cx="1848" cy="1095" rx="22" ry="21"/><ellipse cx="2013" cy="1095" rx="22" ry="21"/><ellipse cx="2248" cy="1095" rx="22" ry="21"/><ellipse cx="2306" cy="1095" rx="22" ry="21"/>
<ellipse cx="98" cy="491" rx="22" ry="21"/><ellipse cx="98" cy="759" rx="22" ry="21"/><ellipse cx="98" cy="943" rx="22" ry="21"/><ellipse cx="98" cy="997" rx="22" ry="21"/>
<ellipse cx="2368" cy="491" rx="22" ry="21"/><ellipse cx="2368" cy="759" rx="22" ry="21"/><ellipse cx="2368" cy="943" rx="22" ry="21"/><ellipse cx="2368" cy="997" rx="22" ry="21"/>
</g>
<g fill="#e52020" font-size="24" font-weight="bold" font-style="italic" text-anchor="middle">
<text x="224" y="387">1</text><text x="467" y="387">2</text><text x="741" y="387">3</text><text x="976" y="387">4</text><text x="1211" y="387">5</text><text x="1446" y="387">6</text><text x="1681" y="387">7</text><text x="1848" y="387">8</text><text x="2013" y="387">9</text><text x="2248" y="387">10</text><text x="2295" y="415">10'</text>
<text x="224" y="1104">1</text><text x="467" y="1104">2</text><text x="741" y="1104">3</text><text x="976" y="1104">4</text><text x="1211" y="1104">5</text><text x="1446" y="1104">6</text><text x="1681" y="1104">7</text><text x="1848" y="1104">8</text><text x="2013" y="1104">9</text><text x="2248" y="1104">10</text><text x="2306" y="1104">10'</text>
<text x="98" y="500">A</text><text x="98" y="768">B</text><text x="98" y="952">C</text><text x="98" y="1006">D</text>
<text x="2368" y="500">A</text><text x="2368" y="768">B</text><text x="2368" y="952">C</text><text x="2368" y="1006">D</text>
</g>

<!-- ===== LEGEND TABLE ===== -->
<g stroke="#000" stroke-width="0.8" fill="none">
<rect x="2472" y="436" width="393" height="116"/>
<line x1="2472" y1="465" x2="2865" y2="465"/><line x1="2472" y1="475" x2="2865" y2="475"/><line x1="2472" y1="485" x2="2865" y2="485"/><line x1="2472" y1="496" x2="2865" y2="496"/><line x1="2472" y1="508" x2="2865" y2="508"/><line x1="2472" y1="518" x2="2865" y2="518"/><line x1="2472" y1="529" x2="2865" y2="529"/><line x1="2472" y1="541" x2="2865" y2="541"/>
<line x1="2515" y1="475" x2="2515" y2="552"/><line x1="2532" y1="475" x2="2532" y2="552"/><line x1="2562" y1="475" x2="2562" y2="552"/><line x1="2640" y1="475" x2="2640" y2="552"/>
</g>
<g font-size="5.5">
<text x="2474" y="449" font-weight="bold">Remarque:</text>
<text x="2474" y="458">Tous les éléments hors-lot sont dessinés à titre indicatif, de couleur "Gris" et décrits "Hors-lot".</text>
<text x="2668" y="472" text-anchor="middle" font-weight="bold" font-style="italic">PLANS ET DOCUMENTS DE REFERENCE</text>
<g text-anchor="middle"><text x="2493" y="482">N°</text><text x="2523" y="482">Ind.</text><text x="2547" y="482">Date</text><text x="2601" y="482">Emetteur</text><text x="2752" y="482">Désignation</text>
<text x="2493" y="493">301</text><text x="2523" y="493">A</text><text x="2547" y="493">15/01/2020</text><text x="2601" y="493">DGF</text>
<text x="2493" y="504">303</text><text x="2523" y="504">A</text><text x="2547" y="504">15/01/2020</text><text x="2601" y="504">DGF</text>
<text x="2493" y="515">305</text><text x="2523" y="515">B</text><text x="2547" y="515">15/12/2019</text><text x="2601" y="515">DGF</text>
<text x="2493" y="526">307 à 312</text><text x="2523" y="526">A</text><text x="2547" y="526">15/12/2019</text><text x="2601" y="526">DGF</text>
<text x="2493" y="537">501</text><text x="2523" y="537">B</text><text x="2547" y="537">24/01/2020</text><text x="2601" y="537">DGIF</text>
<text x="2493" y="549">502</text><text x="2523" y="549">B</text><text x="2547" y="549">24/01/2020</text><text x="2601" y="549">DGIF</text></g>
<text x="2643" y="493">PRO-DCE - Plan RDC</text><text x="2643" y="504">PRO-DCE - Plan R+1</text><text x="2643" y="515">PRO-DCE - Façades</text><text x="2643" y="526">PRO-DCE - Coupes A à G</text><text x="2643" y="537">APD - Lot structure bois - Plans RDC-R+1-Toiture</text><text x="2643" y="549">APD - Lot structure bois - Coupes Verticales A à G</text>
</g>

<!-- ===== TITLE BLOCK ===== -->
<g stroke="#000" stroke-width="1.2" fill="none">
<rect x="2473" y="586" width="392" height="531"/>
<line x1="2766" y1="586" x2="2766" y2="696"/><line x1="2473" y1="696" x2="2865" y2="696"/>
<line x1="2643" y1="696" x2="2643" y2="903"/><line x1="2814" y1="696" x2="2814" y2="903"/>
<line x1="2473" y1="903" x2="2865" y2="903"/><line x1="2669" y1="903" x2="2669" y2="1000"/>
<line x1="2473" y1="976" x2="2865" y2="976"/><line x1="2473" y1="1000" x2="2865" y2="1000"/>
<line x1="2473" y1="1038" x2="2865" y2="1038"/><line x1="2723" y1="1038" x2="2723" y2="1117"/>
<line x1="2473" y1="1065" x2="2723" y2="1065"/><line x1="2473" y1="1076" x2="2723" y2="1076"/><line x1="2473" y1="1087" x2="2723" y2="1087"/><line x1="2473" y1="1096" x2="2723" y2="1096"/><line x1="2473" y1="1107" x2="2723" y2="1107"/>
<line x1="2508" y1="1065" x2="2508" y2="1117"/><line x1="2538" y1="1065" x2="2538" y2="1117"/>
<line x1="2723" y1="1057" x2="2865" y2="1057"/><line x1="2723" y1="1077" x2="2865" y2="1077"/><line x1="2723" y1="1098" x2="2865" y2="1098"/>
</g>
<g font-weight="bold" text-anchor="middle">
<text x="2620" y="601" font-size="14">1917 - Maison de la B -</text>
<text x="2620" y="621" font-size="14">Mitry Claye (73)</text>
<text x="2620" y="654" font-size="14" font-weight="normal" font-style="italic">Vue en plan RdC</text>
<text x="2815" y="633" font-size="34">EXE</text>
<text x="2815" y="676" font-size="34">1004</text>
</g>
<!-- logos -->
<g>
<line x1="2480" y1="717" x2="2640" y2="717" stroke="#3a9a8a" stroke-width="1"/><line x1="2650" y1="717" x2="2810" y2="717" stroke="#3a9a8a" stroke-width="1"/>
<path d="M2560 714 q6 -10 4 -14 q-6 4 -4 14z M2730 714 q6 -10 4 -14 q-6 4 -4 14z" fill="#9fd0c4"/>
<path d="M2578 745 q-40 30 -20 70 q10 12 20 8 q-18 -10 -10 -40 q6 -20 20 -38 z M2585 762 l-22 45 M2590 770 l-20 40" stroke="#3a9a8a" stroke-width="5" fill="#3a9a8a" opacity="0.8"/>
<path d="M2747 745 q-40 30 -20 70 q10 12 20 8 q-18 -10 -10 -40 q6 -20 20 -38 z M2754 762 l-22 45 M2759 770 l-20 40" stroke="#3a9a8a" stroke-width="5" fill="#3a9a8a" opacity="0.8"/>
<text x="2481" y="734" font-size="16">concepts<tspan font-weight="bold">bois</tspan>structure</text>
<text x="2730" y="734" font-size="17" text-anchor="middle">LIFTEAM</text>
<g font-size="7.5" font-weight="bold">
<text x="2508" y="776">Parc d'activités Les gondoles</text><text x="2508" y="783">118 Avenue d'Alfortville</text><text x="2508" y="791">F-94600 CHOISY-LE-ROI</text><text x="2508" y="803">Gérant: Jean-Luc SANDOZ</text><text x="2508" y="818">Tel. +33 1 56 70 43 63</text><text x="2508" y="829">Fax +33 1 48 92 05 85</text><text x="2507" y="852">E-Mail: info@cbs-cbt.com</text>
<text x="2672" y="776">404, route des Bons Prés</text><text x="2673" y="783">Parc d'activités du Héron</text><text x="2673" y="791">F-73110 LA ROCHETTE</text><text x="2673" y="818">Tel. +33 4 79 70 41 20</text><text x="2673" y="829">Fax +33 4 79 70 42 38</text><text x="2672" y="852">E-Mail: demolis@ecotim.com</text>
</g>
<g font-size="11">
<text x="2821" y="756">APS</text><text x="2821" y="775">APD</text><text x="2821" y="795">PRO</text><text x="2821" y="816">DCE</text><text x="2821" y="835">EXE</text><text x="2821" y="855">FAB</text><text x="2821" y="875">POS</text><text x="2821" y="895">DOE</text>
</g>
<g fill="none" stroke="#000" stroke-width="1">
<rect x="2850" y="749" width="7" height="7"/><rect x="2850" y="768" width="7" height="7"/><rect x="2850" y="788" width="7" height="7"/><rect x="2850" y="809" width="7" height="7"/><rect x="2850" y="828" width="7" height="7" fill="#000"/><rect x="2850" y="848" width="7" height="7"/><rect x="2850" y="868" width="7" height="7"/><rect x="2850" y="888" width="7" height="7"/>
</g>
</g>
<g font-size="7">
<text x="2479" y="914" font-weight="bold" font-style="italic" text-decoration="underline">Maîtrise d'ouvrage</text>
<text x="2479" y="924" font-weight="bold">SNCF Réseau</text><text x="2479" y="933" font-weight="bold">Direction Générale Ile-de-France</text><text x="2479" y="942" font-weight="bold">Pôle PN PE</text><text x="2479" y="951">10 Rue Camille MOKE</text><text x="2479" y="959">93212 La Plaine Saint-Denis</text>
<text x="2674" y="914" font-weight="bold" font-style="italic" text-decoration="underline">Maîtrise d'oeuvre</text>
<text x="2673" y="924" font-weight="bold">SNCF Mobilité - Direction des Gares Ile-de-France</text><text x="2673" y="933" font-weight="bold">Département Conception réalisation</text><text x="2673" y="942" font-weight="bold">Pôle Ile de France - Studio Matériel</text><text x="2673" y="951">16 Avenue d'Ivry</text><text x="2673" y="959">75013 Paris</text>
<text x="2476" y="985">Ingénieur projet: Yohann BENAS</text><text x="2476" y="997">Dessinateur projeteur: Guillaume LAVOREL</text>
<text x="2672" y="985">Vérifié par: AE</text>
</g>
<text x="2479" y="1054" font-size="9" font-weight="bold">Modifications</text>
<g font-size="8.5" font-weight="bold"><text x="2476" y="1074">Indice</text><text x="2511" y="1074">Date</text><text x="2542" y="1074">Modifications</text></g>
<g font-size="5"><text x="2490" y="1084">0</text><text x="2511" y="1084">11/06/2021</text><text x="2542" y="1084">Première diffusion</text>
<text x="2490" y="1094">A</text><text x="2511" y="1094">14/07/2021</text><text x="2542" y="1094">MàJ suite retour archi</text>
<text x="2490" y="1104">B</text><text x="2511" y="1104">13/08/2021</text><text x="2542" y="1104">MàJ porte A-B-C-D</text>
<text x="2490" y="1114">C</text><text x="2511" y="1114">17/08/2021</text><text x="2542" y="1114">Axe poteau + épaisseur cloison placo</text></g>
<g font-size="8.5" font-weight="bold"><text x="2732" y="1052">N° affaire :</text><text x="2794" y="1052">1917</text><text x="2732" y="1071">N° plan :</text><text x="2794" y="1071">1004</text><text x="2732" y="1091">Date :</text><text x="2794" y="1091">11/06/2021</text><text x="2732" y="1110">Echelle :</text><text x="2794" y="1110">Selon plan</text></g>
<!-- bottom code strip -->
<g stroke="#000" stroke-width="1" fill="none">
<rect x="2473" y="1127" width="55" height="20"/><rect x="2534" y="1127" width="28" height="20"/><rect x="2568" y="1127" width="41" height="20"/><rect x="2615" y="1127" width="41" height="20"/><rect x="2662" y="1127" width="27" height="20"/><rect x="2696" y="1127" width="27" height="20"/><rect x="2729" y="1127" width="41" height="20"/><rect x="2776" y="1127" width="55" height="20"/><rect x="2837" y="1127" width="28" height="20"/>
<path d="M2473 1136 H2528 M2534 1136 H2562 M2568 1136 H2609 M2615 1136 H2656 M2662 1136 H2689 M2696 1136 H2723 M2729 1136 H2770 M2776 1136 H2831 M2837 1136 H2865"/>
<path d="M2487 1136 V1147 M2501 1136 V1147 M2514 1136 V1147 M2548 1136 V1147 M2582 1136 V1147 M2595 1136 V1147 M2629 1136 V1147 M2642 1136 V1147 M2675 1136 V1147 M2709 1136 V1147 M2743 1136 V1147 M2756 1136 V1147 M2790 1136 V1147 M2804 1136 V1147 M2817 1136 V1147"/>
</g>
<g font-size="3.5" text-anchor="middle"><text x="2500" y="1134">Affaire</text><text x="2548" y="1134">Lot</text><text x="2588" y="1134">Emetteur</text><text x="2635" y="1134">Phase</text><text x="2675" y="1134">Zone</text><text x="2709" y="1134">Niveau</text><text x="2749" y="1134">Type de doc.</text><text x="2803" y="1134">Numéro</text><text x="2851" y="1134">Indice</text></g>
<g font-size="7" font-weight="bold" text-anchor="middle">
<text x="2480" y="1145">1</text><text x="2494" y="1145">9</text><text x="2507" y="1145">1</text><text x="2521" y="1145">7</text><text x="2541" y="1145">0</text><text x="2555" y="1145">3</text><text x="2575" y="1145">C</text><text x="2588" y="1145">B</text><text x="2602" y="1145">S</text><text x="2622" y="1145">E</text><text x="2635" y="1145">X</text><text x="2649" y="1145">E</text><text x="2668" y="1145">T</text><text x="2682" y="1145">Z</text><text x="2702" y="1145">R</text><text x="2716" y="1145">C</text><text x="2736" y="1145">P</text><text x="2749" y="1145">L</text><text x="2763" y="1145">A</text><text x="2783" y="1145">1</text><text x="2797" y="1145">0</text><text x="2810" y="1145">0</text><text x="2824" y="1145">4</text><text x="2851" y="1145">C</text>
</g>
</svg>
</body></html>
